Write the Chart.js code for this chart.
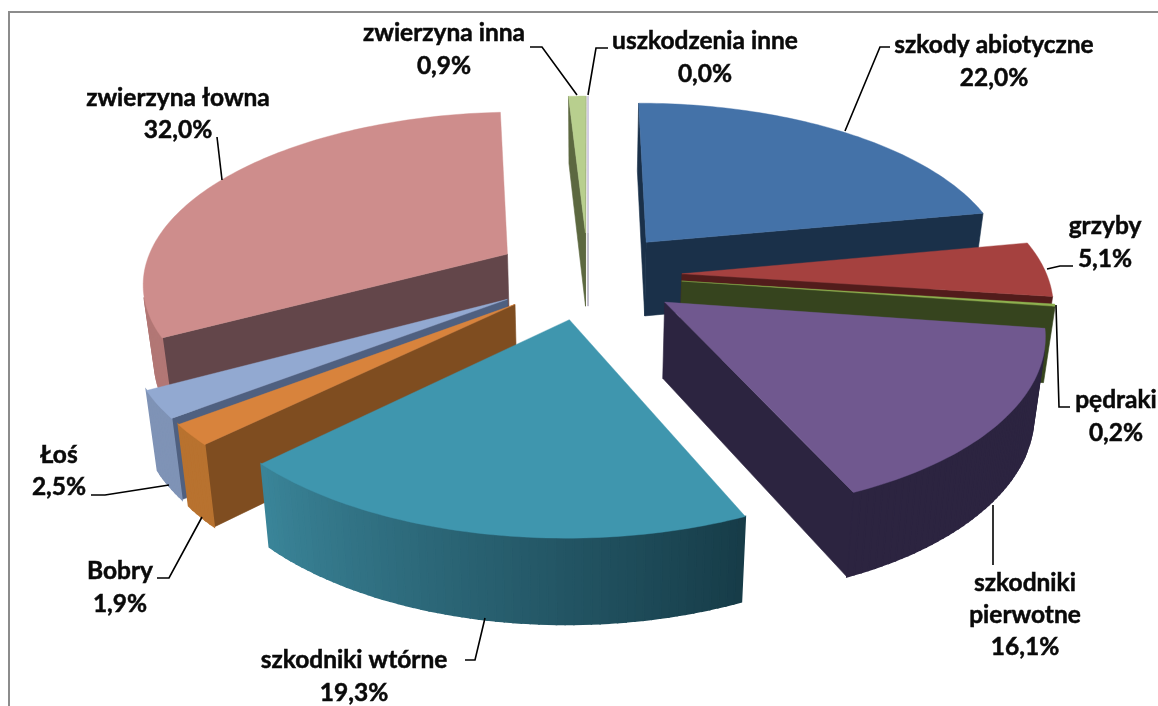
<!DOCTYPE html>
<html>
<head>
<meta charset="utf-8">
<title>Uszkodzenia</title>
<script src="https://cdn.jsdelivr.net/npm/chart.js@4"></script>
<style>
    html, body { margin: 0; padding: 0; background: #fff; }
    #wrap { position: relative; width: 1158px; height: 706px; overflow: hidden; }
</style>
</head>
<body>
<div id="wrap"><canvas id="myChart" width="1158" height="706"></canvas></div>
<script>
const categories = ['szkody abiotyczne', 'grzyby', 'pędraki', 'szkodniki pierwotne', 'szkodniki wtórne',
    'Bobry', 'Łoś', 'zwierzyna łowna', 'zwierzyna inna', 'uszkodzenia inne'];
const shares = [22.0, 5.1, 0.2, 16.1, 19.3, 1.9, 2.5, 32.0, 0.9, 0.0];

const topColors = ['#4472a8', '#a5413f', '#8db04f', '#70588f', '#3f96ae', '#d8833c', '#92a9d1', '#ce8d8c', '#b8cf8e', '#d9d2e9'];
const wallColors = ['#1a3049', '#521c1b', '#36441e', '#2c2440', '#245a69', '#7f4d20', '#4f6080', '#63464a', '#5c6840', '#8a84a0'];
const rimFrom = ['#2a4666', '#6e2a29', '#4d6124', '#2c2440', '#3a8498', '#b8722f', '#7f93b6', '#b27775', '#77894f', '#8a84a0'];
const rimTo = ['#2a4666', '#6e2a29', '#4d6124', '#2c2440', '#163b47', '#b8722f', '#7f93b6', '#b27775', '#77894f', '#8a84a0'];

// label lines: [center x, first line middle y, line gap]
const labelPlaces = [
    [994, 45, 33], [1105, 226, 33], [1116, 400, 33], [1025, 583, 32], [354, 660, 33],
    [120, 571, 33], [59, 455, 32], [178, 98, 32], [444, 33, 33], [705, 41, 33]
];
const labelLines = [
    [[890, 47], [880, 47], [845, 131]],
    [[1073, 266], [1060, 266], [1047, 269]],
    [[1056, 305], [1059, 407], [1070, 407]],
    [[993, 505], [993, 565]],
    [[465, 660], [475, 660], [485, 618]],
    [[157, 578], [169, 578], [202, 517]],
    [[91, 495], [105, 495], [169, 485]],
    [[217, 137], [222, 180]],
    [[530, 47], [542, 47], [577, 95]],
    [[608, 48], [596, 48], [588, 95]]
];

// view of the tilted pie
const tilt = 0.465;
const nearGrow = 0.00042;
const depth = 75;
const depthShrink = 0.975;

function mix(a, b, t) {
    const pa = parseInt(a.slice(1), 16), pb = parseInt(b.slice(1), 16);
    const ch = s => Math.round(((pa >> s) & 255) * (1 - t) + ((pb >> s) & 255) * t);
    return `rgb(${ch(16)},${ch(8)},${ch(0)})`;
}

function project(arc, dx, dz, low) {
    const s = 1 / (1 - nearGrow * dz);
    const shrink = low ? depthShrink : 1;
    return {
        x: arc.x + dx * s * shrink,
        y: arc.y + tilt * dz * s * shrink + (low ? depth * s : 0)
    };
}

function fillShape(ctx, pts, color, edge) {
    ctx.beginPath();
    pts.forEach((p, i) => i ? ctx.lineTo(p.x, p.y) : ctx.moveTo(p.x, p.y));
    ctx.closePath();
    ctx.fillStyle = color;
    ctx.fill();
    ctx.strokeStyle = color;
    ctx.lineWidth = edge;
    ctx.stroke();
}

function drawSlice(ctx, arc, i) {
    const mid = (arc.startAngle + arc.endAngle) / 2;
    const off = arc.options.offset;
    const ax = off * Math.cos(mid), az = off * Math.sin(mid);
    const steps = Math.max(1, Math.ceil((arc.endAngle - arc.startAngle) / 0.02));
    const ring = [];
    for (let n = 0; n <= steps; n++) {
        const a = arc.startAngle + (arc.endAngle - arc.startAngle) * n / steps;
        ring.push([ax + arc.outerRadius * Math.cos(a), az + arc.outerRadius * Math.sin(a)]);
    }
    const outline = [[ax, az], ...ring, [ax, az]];

    for (let n = 0; n < outline.length - 1; n++) {
        const a = outline[n], b = outline[n + 1];
        const q = [project(arc, a[0], a[1], false), project(arc, b[0], b[1], false),
            project(arc, b[0], b[1], true), project(arc, a[0], a[1], true)];
        let area = 0;
        q.forEach((p, k) => {
            const r = q[(k + 1) % 4];
            area += p.x * r.y - r.x * p.y;
        });
        if (area >= 0) continue;
        const radial = n === 0 || n === outline.length - 2;
        // rim gets darker toward the start of the slice
        const color = radial ? wallColors[i] : mix(rimTo[i], rimFrom[i], n / steps);
        fillShape(ctx, q, color, radial ? 0.6 : 1.6);
    }
    const face = outline.slice(0, -1).map(p => project(arc, p[0], p[1], false));
    fillShape(ctx, face, topColors[i], shares[i] > 0 ? 0.4 : 1);
}

const pie3d = {
    id: 'pie3d',
    beforeDraw(chart) {
        const ctx = chart.ctx;
        ctx.save();
        ctx.strokeStyle = '#8c8c8c';
        ctx.lineWidth = 2;
        ctx.beginPath();
        ctx.moveTo(9, 706);
        ctx.lineTo(9, 12);
        ctx.lineTo(1158, 12);
        ctx.stroke();
        ctx.restore();
    },
    beforeDatasetDraw(chart) {
        const ctx = chart.ctx;
        const arcs = chart.getDatasetMeta(0).data;
        // back slices first, so nearer ones paint over them
        const order = arcs.map((arc, i) => i).sort((p, q) => {
            const mp = (arcs[p].startAngle + arcs[p].endAngle) / 2;
            const mq = (arcs[q].startAngle + arcs[q].endAngle) / 2;
            return Math.sin(mp) - Math.sin(mq);
        });
        ctx.save();
        order.forEach(i => drawSlice(ctx, arcs[i], i));
        ctx.restore();
        return false;
    },
    afterDraw(chart) {
        const ctx = chart.ctx;
        ctx.save();
        ctx.strokeStyle = '#000';
        ctx.lineWidth = 1.6;
        labelLines.forEach(line => {
            ctx.beginPath();
            line.forEach((p, k) => k ? ctx.lineTo(p[0], p[1]) : ctx.moveTo(p[0], p[1]));
            ctx.stroke();
        });
        ctx.fillStyle = '#0a0a0a';
        ctx.strokeStyle = '#0a0a0a';
        ctx.lineWidth = 0.5;
        ctx.font = 'bold 24.5px Lato';
        ctx.textAlign = 'center';
        ctx.textBaseline = 'middle';
        categories.forEach((name, i) => {
            const [x, y, gap] = labelPlaces[i];
            const text = shares[i].toFixed(1).replace('.', ',') + '%';
            const rows = name === 'szkodniki pierwotne' ? ['szkodniki', 'pierwotne', text] : [name, text];
            rows.forEach((row, r) => {
                ctx.fillText(row, x, y + r * gap);
                ctx.strokeText(row, x, y + r * gap);
            });
        });
        ctx.restore();
    }
};

const ctx = document.getElementById('myChart');
new Chart(ctx, {
    type: 'pie',
    data: {
        labels: categories,
        datasets: [{
            data: shares,
            backgroundColor: topColors,
            borderWidth: 0,
            offset: 94
        }]
    },
    options: {
        responsive: false,
        animation: false,
        radius: 365,
        rotation: 0,
        layout: { padding: { left: 18, bottom: 156 } },
        plugins: { legend: { display: false }, tooltip: { enabled: false } }
    },
    plugins: [pie3d]
});
</script>
</body>
</html>
